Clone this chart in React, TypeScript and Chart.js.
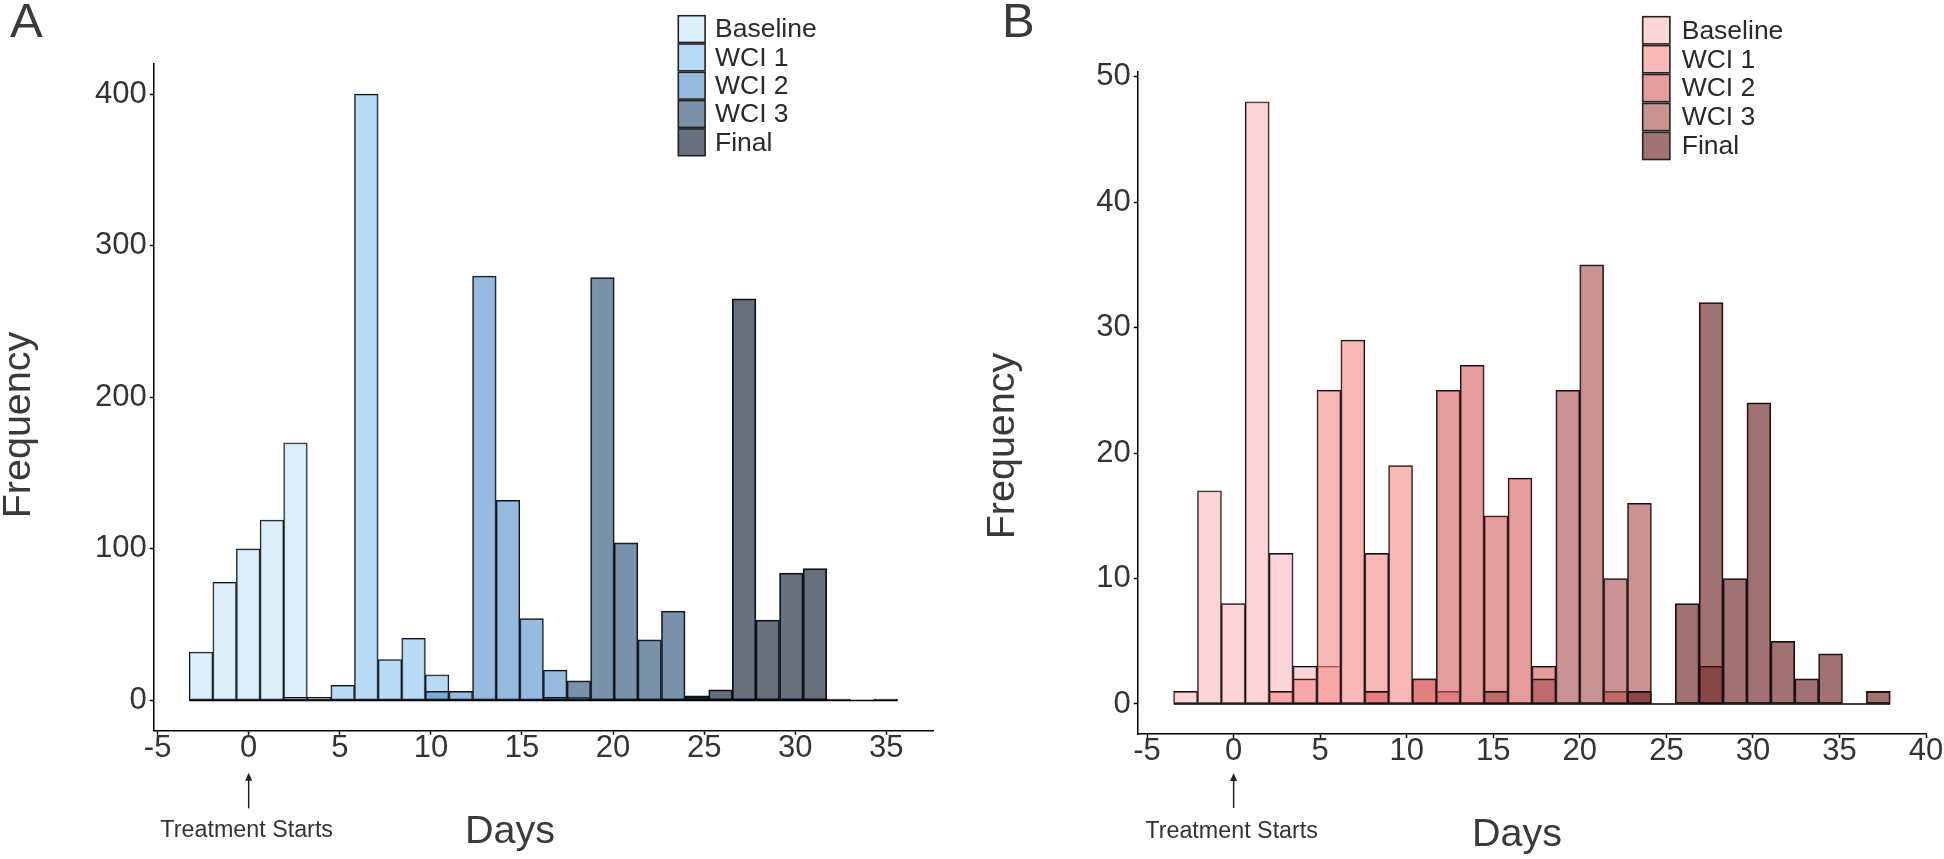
import React, { useEffect, useRef } from "react";
import { Chart, registerables } from "chart.js";

Chart.register(...registerables);

// ---------- data ----------
const GROUPS = ["Baseline", "WCI 1", "WCI 2", "WCI 3", "Final"];

// histogram bin centres (days)
const BIN_CENTERS_A = [
  -2.616, -1.32, -0.024, 1.272, 2.568, 3.864, 5.16, 6.456, 7.752, 9.048,
  10.344, 11.64, 12.936, 14.232, 15.528, 16.824, 18.12, 19.416, 20.712, 22.008,
  23.304, 24.6, 25.896, 27.192, 28.488, 29.784, 31.08, 32.376, 33.672, 34.968,
];
const BIN_CENTERS_B = [
  -2.776, -1.396, -0.016, 1.364, 2.744, 4.124, 5.504, 6.884, 8.264, 9.644,
  11.024, 12.404, 13.784, 15.164, 16.544, 17.924, 19.304, 20.684, 22.064, 23.444,
  24.824, 26.204, 27.584, 28.964, 30.344, 31.724, 33.104, 34.484, 35.864, 37.244,
];

// Panel A frequencies
const BASELINE_A = [32, 78, 100, 119, 170, 0, 0, 0, 0, 0, 0, 0, 0, 0, 0, 0, 0, 0, 0, 0, 0, 0, 0, 0, 0, 0, 0, 0, 0, 0];
const WCI1_A = [0, 0, 0, 0, 2, 2, 10, 400, 27, 41, 17, 0, 0, 0, 0, 0, 0, 0, 0, 0, 0, 0, 0, 0, 0, 0, 0, 0, 0, 0];
const WCI2_A = [0, 0, 0, 0, 0, 0, 0, 0, 0, 0, 6, 6, 280, 132, 54, 20, 2, 0, 0, 0, 0, 0, 0, 0, 0, 0, 0, 0, 0, 0];
const WCI3_A = [0, 0, 0, 0, 0, 0, 0, 0, 0, 0, 0, 0, 0, 0, 0, 2, 13, 279, 104, 40, 59, 2, 0, 0, 0, 0, 0, 0, 0, 0];
const FINAL_A = [0, 0, 0, 0, 0, 0, 0, 0, 0, 0, 0, 0, 0, 0, 0, 0, 0, 0, 0, 0, 1, 3, 7, 265, 53, 84, 87, 1, 0, 1];

// Panel B frequencies
const BASELINE_B = [1, 17, 8, 48, 12, 3, 3, 0, 0, 0, 0, 0, 0, 0, 0, 0, 0, 0, 0, 0, 0, 0, 0, 0, 0, 0, 0, 0, 0, 0];
const WCI1_B = [0, 0, 0, 0, 1, 2, 25, 29, 12, 19, 2, 1, 0, 0, 0, 0, 0, 0, 0, 0, 0, 0, 0, 0, 0, 0, 0, 0, 0, 0];
const WCI2_B = [0, 0, 0, 0, 0, 0, 0, 0, 1, 0, 2, 25, 27, 15, 18, 3, 0, 0, 1, 0, 0, 0, 0, 0, 0, 0, 0, 0, 0, 0];
const WCI3_B = [0, 0, 0, 0, 0, 0, 0, 0, 0, 0, 0, 0, 0, 1, 0, 2, 25, 35, 10, 16, 0, 0, 3, 0, 0, 0, 0, 0, 0, 0];
const FINAL_B = [0, 0, 0, 0, 0, 0, 0, 0, 0, 0, 0, 0, 0, 0, 0, 0, 0, 0, 0, 1, 0, 8, 32, 10, 24, 5, 2, 4, 0, 1];

const X_TICKS_A = [-5, 0, 5, 10, 15, 20, 25, 30, 35];
const X_TICKS_B = [-5, 0, 5, 10, 15, 20, 25, 30, 35, 40];
const Y_TICKS_A = [0, 100, 200, 300, 400];
const Y_TICKS_B = [0, 10, 20, 30, 40, 50];

const COLORS_A = [
  "rgba(198,227,248,0.6)",
  "rgba(138,193,238,0.6)",
  "rgba(82,140,202,0.6)",
  "rgba(33,72,113,0.6)",
  "rgba(2,18,38,0.6)",
];
const COLORS_B = [
  "rgba(252,185,187,0.6)",
  "rgba(243,137,137,0.6)",
  "rgba(212,90,90,0.6)",
  "rgba(165,75,75,0.6)",
  "rgba(97,20,20,0.6)",
];

const FONT = "'Liberation Sans', Arial, Helvetica, sans-serif";

type Panel = {
  letter: string;
  centers: number[];
  series: number[][];
  colors: string[];
  xTicks: number[];
  yTicks: number[];
  xMin: number;
  xMax: number;
  yMin: number;
  yMax: number;
  padTop: number;
  padRight: number;
  yAxisWidth: number;
  xAxisHeight: number;
  letterX: number;
  letterY: number;
  yTitleX: number;
  yTitleY: number;
  xTitleX: number;
  xTitleY: number;
  annotY: number;
  arrowTop: number;
  arrowBottom: number;
  legendKeyX: number;
  legendTop: number;
  legendKey: number;
  legendPitch: number;
  legendTextX: number;
};

const PANEL_A: Panel = {
  letter: "A",
  centers: BIN_CENTERS_A,
  series: [BASELINE_A, WCI1_A, WCI2_A, WCI3_A, FINAL_A],
  colors: COLORS_A,
  xTicks: X_TICKS_A,
  yTicks: Y_TICKS_A,
  xMin: -5.208,
  xMax: 37.56,
  yMin: -20,
  yMax: 420,
  padTop: 63.8,
  padRight: 39,
  yAxisWidth: 153.8,
  xAxisHeight: 128.2,
  letterX: 10,
  letterY: 36.7,
  yTitleX: 30.3,
  yTitleY: 425,
  xTitleX: 510,
  xTitleY: 843,
  annotY: 837.3,
  arrowTop: 772.7,
  arrowBottom: 808.3,
  legendKeyX: 678.3,
  legendTop: 15.7,
  legendKey: 26.8,
  legendPitch: 28.3,
  legendTextX: 715,
};

const PANEL_B: Panel = {
  letter: "B",
  centers: BIN_CENTERS_B,
  series: [BASELINE_B, WCI1_B, WCI2_B, WCI3_B, FINAL_B],
  colors: COLORS_B,
  xTicks: X_TICKS_B,
  yTicks: Y_TICKS_B,
  xMin: -5.536,
  xMax: 40.004,
  yMin: -2.4,
  yMax: 50.4,
  padTop: 71.7,
  padRight: 17.9,
  yAxisWidth: 165.8,
  xAxisHeight: 124.9,
  letterX: 30,
  letterY: 36.7,
  yTitleX: 42.3,
  yTitleY: 446,
  xTitleX: 545,
  xTitleY: 846,
  annotY: 838,
  arrowTop: 773,
  arrowBottom: 808,
  legendKeyX: 670.7,
  legendTop: 16.7,
  legendKey: 27.2,
  legendPitch: 28.9,
  legendTextX: 709.7,
};

const decorPlugin = {
  id: "decor",
  afterDatasetsDraw(chart: any) {
    const p: Panel = chart.options.plugins.decor;
    const ctx: CanvasRenderingContext2D = chart.ctx;
    const xs = chart.scales.x;
    const ys = chart.scales.y;
    const w = p.centers[1] - p.centers[0];
    const y0 = ys.getPixelForValue(0);
    ctx.save();
    ctx.strokeStyle = "#000";
    ctx.lineWidth = 1.5;
    ctx.beginPath();
    ctx.moveTo(xs.getPixelForValue(p.centers[0] - w / 2), y0);
    ctx.lineTo(xs.getPixelForValue(p.centers[p.centers.length - 1] + w / 2), y0);
    ctx.stroke();
    ctx.restore();
  },
  afterDraw(chart: any) {
    const p: Panel = chart.options.plugins.decor;
    const ctx: CanvasRenderingContext2D = chart.ctx;
    const xs = chart.scales.x;
    ctx.save();
    // panel letter
    ctx.fillStyle = "#3a3a3a";
    ctx.font = `49px ${FONT}`;
    ctx.textAlign = "left";
    ctx.textBaseline = "alphabetic";
    ctx.fillText(p.letter, p.letterX, p.letterY);

    // y title
    ctx.save();
    ctx.translate(p.yTitleX, p.yTitleY);
    ctx.rotate(-Math.PI / 2);
    ctx.font = `39.5px ${FONT}`;
    ctx.textAlign = "center";
    ctx.fillStyle = "#3a3a3a";
    ctx.fillText("Frequency", 0, 0);
    ctx.restore();

    // x title
    ctx.font = `39.5px ${FONT}`;
    ctx.textAlign = "center";
    ctx.fillStyle = "#3a3a3a";
    ctx.fillText("Days", p.xTitleX, p.xTitleY);

    // treatment annotation
    const x0 = xs.getPixelForValue(0);
    ctx.font = `23.3px ${FONT}`;
    ctx.fillStyle = "#333";
    ctx.fillText("Treatment Starts", x0 - 2, p.annotY);
    ctx.strokeStyle = "#222";
    ctx.fillStyle = "#222";
    ctx.lineWidth = 1.5;
    ctx.beginPath();
    ctx.moveTo(x0, p.arrowBottom);
    ctx.lineTo(x0, p.arrowTop + 5);
    ctx.stroke();
    ctx.beginPath();
    ctx.moveTo(x0, p.arrowTop);
    ctx.lineTo(x0 - 3.5, p.arrowTop + 8);
    ctx.lineTo(x0 + 3.5, p.arrowTop + 8);
    ctx.closePath();
    ctx.fill();

    // legend
    ctx.font = `26.5px ${FONT}`;
    ctx.textAlign = "left";
    ctx.textBaseline = "middle";
    GROUPS.forEach((g, i) => {
      const top = p.legendTop + i * p.legendPitch;
      ctx.fillStyle = "#fff";
      ctx.fillRect(p.legendKeyX, top, p.legendKey, p.legendKey);
      ctx.fillStyle = p.colors[i];
      ctx.fillRect(p.legendKeyX, top, p.legendKey, p.legendKey);
      ctx.strokeStyle = "#222";
      ctx.lineWidth = 1.6;
      ctx.strokeRect(p.legendKeyX, top, p.legendKey, p.legendKey);
      ctx.fillStyle = "#2a2a2a";
      ctx.fillText(g, p.legendTextX, top + p.legendKey / 2 + 1);
    });
    ctx.restore();
  },
};

function buildChart(canvas: HTMLCanvasElement, p: Panel) {
  return new Chart(canvas, {
    type: "bar",
    data: {
      datasets: p.series.map((vals, i) => ({
        label: GROUPS[i],
        data: vals.map((v, k) => ({ x: p.centers[k], y: v })),
        backgroundColor: p.colors[i],
        borderColor: "#111",
        borderWidth: 1.1,
        borderSkipped: false,
        grouped: false,
        barPercentage: 1,
        categoryPercentage: 1,
        order: GROUPS.length - i,
      })),
    } as any,
    options: {
      animation: false,
      responsive: false,
      maintainAspectRatio: false,
      devicePixelRatio: 1,
      layout: { padding: { left: 0, top: p.padTop, right: p.padRight, bottom: 0 } },
      plugins: {
        legend: { display: false },
        tooltip: { enabled: false },
        decor: p,
      } as any,
      scales: {
        x: {
          type: "linear",
          min: p.xMin,
          max: p.xMax,
          offset: false,
          afterFit: (s: any) => {
            s.height = p.xAxisHeight;
          },
          afterBuildTicks: (s: any) => {
            s.ticks = p.xTicks.map((v) => ({ value: v }));
          },
          grid: {
            display: true,
            drawOnChartArea: false,
            drawTicks: true,
            tickLength: 4,
            tickWidth: 1.5,
            tickColor: "#000",
            offset: false,
          },
          border: { display: true, color: "#000", width: 1.5 },
          ticks: {
            font: { family: FONT, size: 31, lineHeight: 1 },
            color: "#333",
            padding: -2,
            maxRotation: 0,
            autoSkip: false,
            callback: (v: any) => String(v),
          },
        },
        y: {
          type: "linear",
          min: p.yMin,
          max: p.yMax,
          afterFit: (s: any) => {
            s.width = p.yAxisWidth;
          },
          afterBuildTicks: (s: any) => {
            s.ticks = p.yTicks.map((v) => ({ value: v }));
          },
          grid: {
            display: true,
            drawOnChartArea: false,
            drawTicks: true,
            tickLength: 4,
            tickWidth: 1.5,
            tickColor: "#000",
          },
          border: { display: true, color: "#000", width: 1.5 },
          ticks: {
            font: { family: FONT, size: 31, lineHeight: 1 },
            color: "#333",
            padding: 3,
            autoSkip: false,
            callback: (v: any) => String(v),
          },
        },
      } as any,
    },
    plugins: [decorPlugin as any],
  });
}

function Panel({ panel, left }: { panel: Panel; left: number }) {
  const ref = useRef<HTMLCanvasElement | null>(null);
  useEffect(() => {
    if (!ref.current) return;
    const chart = buildChart(ref.current, panel);
    return () => chart.destroy();
  }, [panel]);
  return (
    <canvas
      ref={ref}
      width={972}
      height={859}
      style={{ position: "absolute", left, top: 0, width: 972, height: 859 }}
    />
  );
}

export default function App() {
  return (
    <div
      style={{
        position: "fixed",
        left: 0,
        top: 0,
        width: 1944,
        height: 859,
        background: "#ffffff",
        overflow: "hidden",
      }}
    >
      <Panel panel={PANEL_A} left={0} />
      <Panel panel={PANEL_B} left={972} />
    </div>
  );
}
